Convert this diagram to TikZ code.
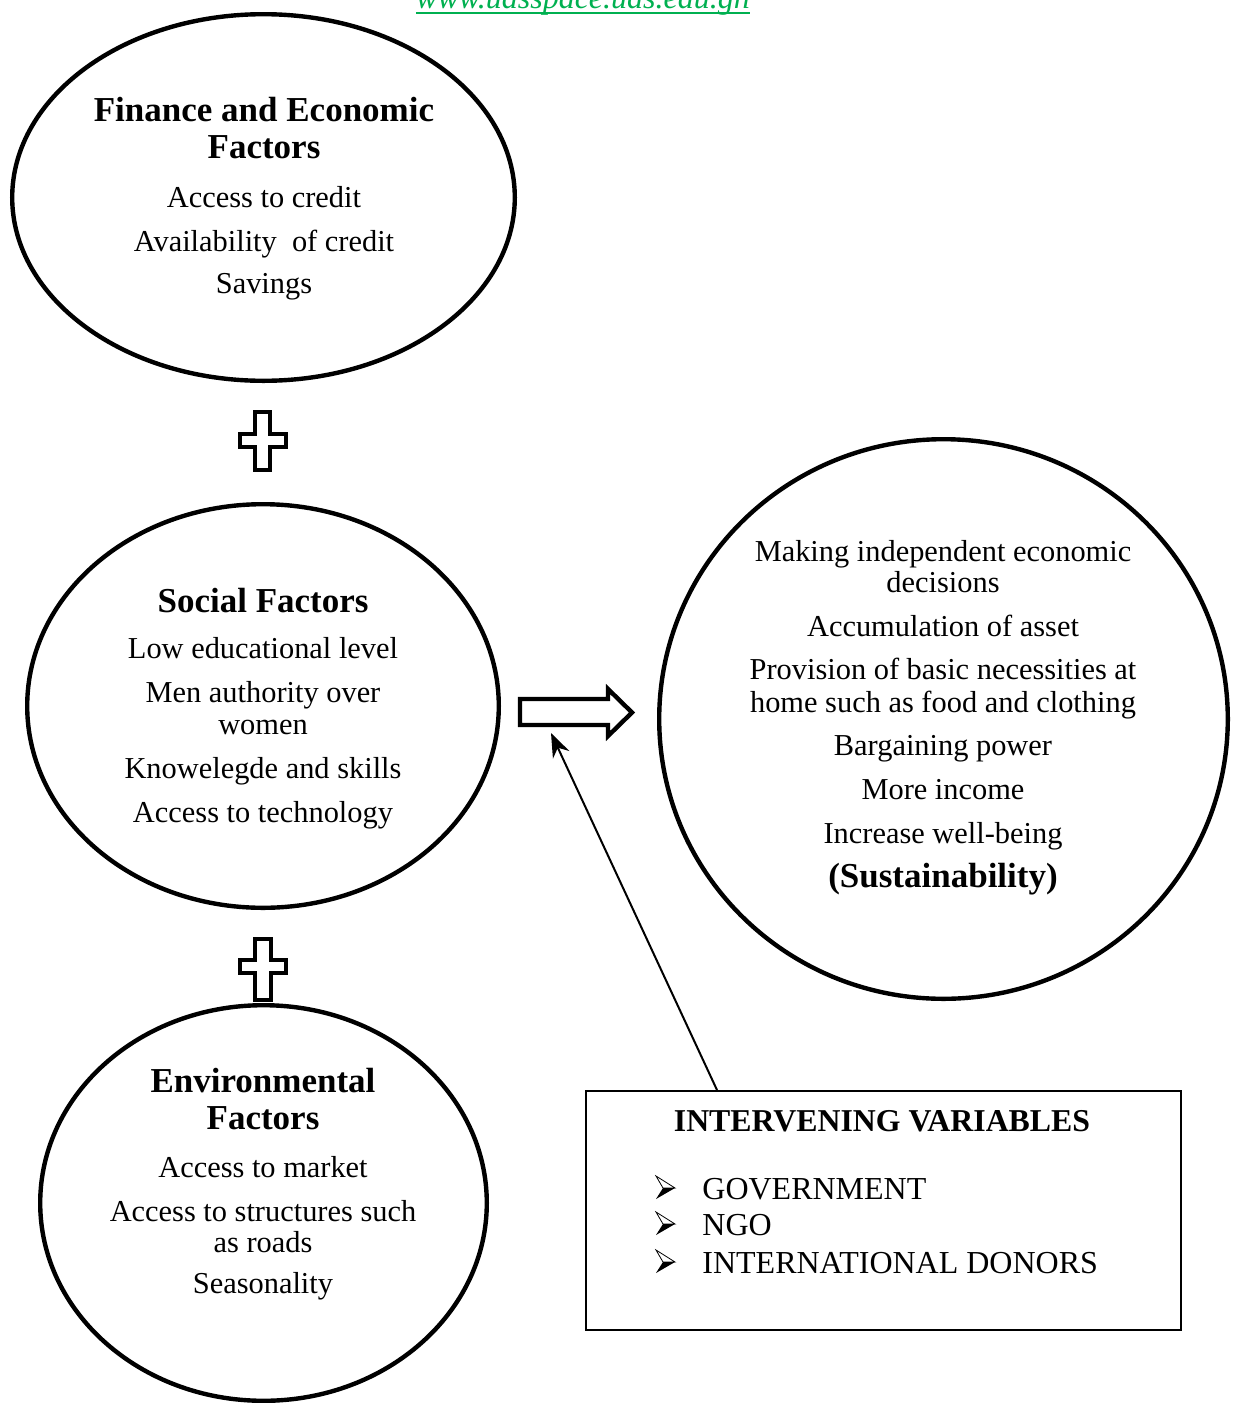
\documentclass[tikz,border=0pt]{standalone}
\usepackage{fontspec}
\setmainfont{Liberation Serif}
\usetikzlibrary{shapes.geometric,arrows.meta}
\definecolor{urlgreen}{RGB}{0,176,80}
\begin{document}
\begin{tikzpicture}[x=0.5pt,y=-0.5pt,
  oval/.style={draw, ellipse, line width=2.2pt, inner sep=0pt},
  body/.style={font=\fontsize{15.2}{18}\selectfont, inner sep=0pt, anchor=base},
  head/.style={font=\bfseries\fontsize{17.5}{21}\selectfont, inner sep=0pt, anchor=base},
  boxtxt/.style={font=\fontsize{16}{19}\selectfont, inner sep=0pt, anchor=base west},
  boxhead/.style={font=\bfseries\fontsize{15.9}{19}\selectfont, inner sep=0pt, anchor=base},
  crossline/.style={line width=2.2pt, line join=miter},
  bulletarr/.pic={
    \draw[line width=0.4pt, fill=white] (-10,-12) -- (9,0) -- (-3,0) -- cycle;
    \fill (-3,0) -- (9,0) -- (-10,11) -- cycle;
  }
]
\useasboundingbox (0,0) rectangle (1233,1403);
\clip (0,0) rectangle (1233,1403);
\fill[white] (0,0) rectangle (1233,1403);

% URL header
\node[font=\itshape\fontsize{16}{19}\selectfont, text=urlgreen, inner sep=0pt, anchor=base] (url) at (583,8) {www.udsspace.uds.edu.gh};
\draw[urlgreen, line width=0.8pt] ([yshift=-2.5pt]url.base west) -- ([yshift=-2.5pt]url.base east);

% Ellipses
\node[oval, minimum width=251.3pt, minimum height=183.3pt] (fin) at (263.5,197.5) {};
\node[oval, minimum width=235.8pt, minimum height=201.8pt] (soc) at (263,706) {};
\node[oval, minimum width=223.3pt, minimum height=197.8pt] (env) at (263.5,1203) {};
\node[oval, minimum width=284.3pt, minimum height=279.8pt] (out) at (943.5,719) {};

% Finance text
\node[head] (f1) at (264,121) {Finance and Economic};
\node[head] (f2) at (264,158) {Factors};
\node[body] (f3) at (264,207) {Access to credit};
\node[body] (f4) at (264,251) {Availability\ \ of credit};
\node[body] (f5) at (264,293) {Savings};

% Social text
\node[head] (s1) at (263,612) {Social Factors};
\node[body] (s2) at (263,658) {Low educational level};
\node[body] (s3) at (263,702) {Men authority over};
\node[body] (s4) at (263,734) {women};
\node[body] (s5) at (263,778) {Knowelegde and skills};
\node[body] (s6) at (263,822) {Access to technology};

% Environmental text
\node[head] (e1) at (263,1092) {Environmental};
\node[head] (e2) at (263,1129) {Factors};
\node[body] (e3) at (263,1177) {Access to market};
\node[body] (e4) at (263,1221) {Access to structures such};
\node[body] (e5) at (263,1252) {as roads};
\node[body] (e6) at (263,1293) {Seasonality};

% Outcome text
\node[body] (o1) at (943,561) {Making independent economic};
\node[body] (o2) at (943,592) {decisions};
\node[body] (o3) at (943,636) {Accumulation of asset};
\node[body] (o4) at (943,679) {Provision of basic necessities at};
\node[body] (o5) at (943,712) {home such as food and clothing};
\node[body] (o6) at (943,755) {Bargaining power};
\node[body] (o7) at (943,799) {More income};
\node[body] (o8) at (943,843) {Increase well-being};
\node[head] (o9) at (943,887) {(Sustainability)};

% Plus signs
\draw[crossline] (255,412) -- (270,412) -- (270,434) -- (286,434) -- (286,447) -- (270,447) -- (270,470) -- (255,470) -- (255,447) -- (240,447) -- (240,434) -- (255,434) -- cycle;
\draw[crossline] (255,939) -- (271,939) -- (271,960) -- (286,960) -- (286,973) -- (271,973) -- (271,1000) -- (255,1000) -- (255,973) -- (240,973) -- (240,960) -- (255,960) -- cycle;

% Block arrow
\draw[line width=2.2pt, line join=miter] (520,699) -- (608,699) -- (608,689) -- (632,712.5) -- (608,736) -- (608,725) -- (520,725) -- cycle;
\coordinate (tgt) at (551,733);

% Intervening box
\node[draw, line width=1pt, minimum width=297.5pt, minimum height=119.5pt, anchor=north west, inner sep=0pt] (box) at (585,1090) {};
\coordinate (src) at (717,1090);
\draw[line width=1pt, -{Stealth[length=12pt, width=9pt]}] (src) -- (tgt);

\node[boxhead] (b0) at (882,1131) {INTERVENING VARIABLES};
\pic at (666,1188) {bulletarr};
\pic at (666,1224) {bulletarr};
\pic at (666,1262) {bulletarr};
\node[boxtxt] (b1) at (702,1199) {GOVERNMENT};
\node[boxtxt] (b2) at (702,1235) {NGO};
\node[boxtxt] (b3) at (702,1273) {INTERNATIONAL DONORS};
\end{tikzpicture}
\end{document}
